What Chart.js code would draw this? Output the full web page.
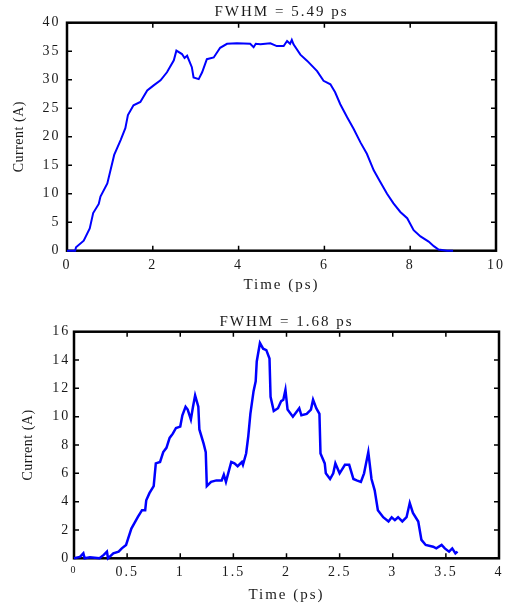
<!DOCTYPE html>
<html>
<head>
<meta charset="utf-8">
<script src="https://cdn.jsdelivr.net/npm/chart.js@4/dist/chart.umd.min.js"></script>
<style>
  body { margin: 0; background: #fff; }
  .box { position: absolute; left: 0; width: 505px; }
</style>
</head>
<body>
<div class="box" style="top:0;height:300px"><canvas id="topChart" width="505" height="300"></canvas></div>
<div class="box" style="top:300px;height:307px"><canvas id="bottomChart" width="505" height="307"></canvas></div>
<script>
// long pulse (top panel)
const topTime = [0, 0.19, 0.21, 0.39, 0.53, 0.61, 0.74, 0.78, 0.94, 1.10, 1.25, 1.36, 1.42, 1.55, 1.71, 1.87,
    2.02, 2.18, 2.33, 2.49, 2.55, 2.68, 2.74, 2.80, 2.91, 2.95, 3.07, 3.15, 3.26, 3.42, 3.57, 3.73, 3.96,
    4.27, 4.35, 4.40, 4.51, 4.74, 4.89, 5.05, 5.13, 5.20, 5.24, 5.28, 5.44, 5.60, 5.83, 5.98, 6.14, 6.25,
    6.37, 6.53, 6.68, 6.84, 6.99, 7.15, 7.30, 7.46, 7.61, 7.77, 7.93, 8.08, 8.24, 8.43, 8.55, 8.66, 8.86, 9.0];
const topCurrent = [0, 0, 0.6, 1.75, 3.9, 6.6, 8.2, 9.5, 11.8, 16.8, 19.4, 21.5, 23.8, 25.5, 26.1, 28.1,
    29.0, 29.9, 31.3, 33.4, 35.1, 34.5, 33.8, 34.2, 32.2, 30.4, 30.1, 31.3, 33.6, 33.9, 35.6, 36.3, 36.4,
    36.3, 35.7, 36.3, 36.2, 36.4, 35.9, 35.9, 36.8, 36.3, 37.0, 36.2, 34.4, 33.3, 31.5, 29.8, 29.2, 27.8,
    25.7, 23.4, 21.4, 19.0, 17.0, 14.1, 12.1, 10.0, 8.3, 6.8, 5.7, 3.6, 2.5, 1.6, 0.8, 0.2, 0, 0];
const topTitle = 'FWHM = 5.49 ps';

// compressed pulse (bottom panel)
const bottomTime = [0, 0.056, 0.088, 0.10, 0.15, 0.24, 0.28, 0.31, 0.32, 0.37, 0.42, 0.45, 0.49, 0.51, 0.54,
    0.57, 0.60, 0.64, 0.67, 0.68, 0.71, 0.75, 0.77, 0.81, 0.84, 0.87, 0.90, 0.93, 0.96, 1.00, 1.02, 1.05,
    1.07, 1.10, 1.12, 1.14, 1.17, 1.18, 1.22, 1.24, 1.25, 1.29, 1.34, 1.39, 1.41, 1.43, 1.48, 1.51, 1.54,
    1.58, 1.59, 1.62, 1.64, 1.66, 1.69, 1.71, 1.72, 1.75, 1.78, 1.81, 1.84, 1.85, 1.88, 1.92, 1.95, 1.97,
    1.99, 2.01, 2.06, 2.12, 2.14, 2.19, 2.23, 2.25, 2.28, 2.31, 2.32, 2.36, 2.37, 2.41, 2.44, 2.46, 2.50,
    2.55, 2.59, 2.63, 2.66, 2.70, 2.73, 2.77, 2.80, 2.83, 2.86, 2.91, 2.96, 2.99, 3.02, 3.05, 3.09, 3.13,
    3.16, 3.19, 3.24, 3.27, 3.31, 3.38, 3.41, 3.46, 3.49, 3.53, 3.56, 3.59, 3.61];
const bottomCurrent = [0, 0.1, 0.35, 0, 0.07, 0, 0.24, 0.47, 0, 0.35, 0.47, 0.7, 0.94, 1.4, 2.1,
    2.5, 2.9, 3.4, 3.4, 4.1, 4.6, 5.1, 6.7, 6.8, 7.5, 7.8, 8.5, 8.8, 9.2, 9.3, 10.1, 10.7,
    10.5, 9.8, 10.7, 11.5, 10.7, 9.1, 8.1, 7.5, 5.1, 5.4, 5.5, 5.5, 5.9, 5.4, 6.8, 6.7, 6.5,
    6.8, 6.6, 7.4, 8.6, 10.2, 11.8, 12.5, 13.9, 15.2, 14.8, 14.7, 14.1, 11.4, 10.4, 10.6, 11.1, 11.2,
    11.9, 10.5, 10.0, 10.6, 10.1, 10.2, 10.5, 11.2, 10.6, 10.2, 7.4, 6.7, 6.0, 5.6, 6.0, 6.7, 6.0,
    6.6, 6.6, 5.6, 5.5, 5.4, 6.0, 7.5, 5.6, 4.8, 3.4, 2.9, 2.6, 2.9, 2.7, 2.9, 2.6, 2.9,
    3.9, 3.2, 2.6, 1.3, 0.94, 0.82, 0.7, 0.94, 0.7, 0.47, 0.7, 0.35, 0.47];
const bottomTitle = 'FWHM = 1.68 ps';

const xTitle = 'Time (ps)';
const yTitle = 'Current (A)';

const serif = 'Liberation Serif';
const textColor = '#1a1a1a';
const spacing = '2px';

// black box with inward ticks on all four sides, under the curve
const frame = {
    id: 'frame',
    beforeLayout(chart) { chart.ctx.letterSpacing = spacing; },
    beforeDraw(chart) {
        chart.ctx.letterSpacing = spacing;
        // the rotated y title is set tighter than the rest
        const ys = chart.scales.y;
        if (ys && !ys._tight) {
            const orig = ys.drawTitle;
            ys.drawTitle = function () {
                const c = this.ctx;
                c.letterSpacing = '0.5px';
                orig.apply(this, arguments);
                c.letterSpacing = spacing;
            };
            ys._tight = true;
        }
    },
    beforeDatasetsDraw(chart) {
        const ctx = chart.ctx;
        const a = chart.chartArea;
        const x = chart.scales.x;
        const y = chart.scales.y;
        ctx.save();
        ctx.strokeStyle = '#000';
        ctx.lineWidth = 1.5;
        ctx.beginPath();
        x.ticks.forEach(t => {
            const px = x.getPixelForValue(t.value);
            ctx.moveTo(px, a.bottom); ctx.lineTo(px, a.bottom - 5);
            ctx.moveTo(px, a.top); ctx.lineTo(px, a.top + 5);
        });
        y.ticks.forEach(t => {
            const py = y.getPixelForValue(t.value);
            ctx.moveTo(a.left, py); ctx.lineTo(a.left + 5, py);
            ctx.moveTo(a.right, py); ctx.lineTo(a.right - 5, py);
        });
        ctx.stroke();
        ctx.lineWidth = 2.5;
        ctx.strokeRect(a.left, a.top, a.right - a.left, a.bottom - a.top);
        ctx.restore();
    }
};

function noPad(s) {
    s.paddingLeft = 0;
    s.paddingRight = 0;
    s.paddingTop = 0;
    s.paddingBottom = 0;
}

function makeChart(id, xs, ys, cfg) {
    const points = xs.map((t, i) => ({ x: t, y: ys[i] }));
    return new Chart(document.getElementById(id).getContext('2d'), { //eslint-disable-line
        type: 'line',
        data: {
            datasets: [{
                data: points,
                borderColor: '#0000ff',
                borderWidth: cfg.lineWidth,
                pointRadius: 0,
                tension: 0,
                clip: 3
            }]
        },
        options: {
            responsive: false,
            animation: false,
            layout: { padding: { left: 0, right: cfg.right, top: 0, bottom: 0 } },
            plugins: {
                legend: { display: false },
                tooltip: { enabled: false },
                title: {
                    display: true,
                    fullSize: false,
                    text: cfg.title,
                    color: textColor,
                    font: { family: serif, size: 15, weight: 'normal', lineHeight: 1.2 },
                    padding: cfg.titlePad
                }
            },
            scales: {
                x: {
                    type: 'linear',
                    min: 0,
                    max: cfg.xMax,
                    grid: { display: false, drawTicks: false },
                    border: { display: false },
                    ticks: {
                        stepSize: cfg.xStep,
                        padding: 6,
                        color: textColor,
                        maxRotation: 0,
                        autoSkip: false,
                        font: cfg.xTickFont,
                        callback: v => String(v)
                    },
                    title: {
                        display: true,
                        text: xTitle,
                        color: textColor,
                        font: { family: serif, size: 15, lineHeight: 1.2 },
                        padding: { top: 0, bottom: cfg.xTitleBottom }
                    },
                    afterFit: s => { s.height = cfg.xHeight; noPad(s); }
                },
                y: {
                    min: 0,
                    max: cfg.yMax,
                    grid: { display: false, drawTicks: false },
                    border: { display: false },
                    ticks: {
                        stepSize: cfg.yStep,
                        padding: cfg.yTickPad,
                        color: textColor,
                        autoSkip: false,
                        font: { family: serif, size: 14 }
                    },
                    title: {
                        display: true,
                        text: yTitle,
                        color: textColor,
                        font: { family: serif, size: 14, lineHeight: 1.2 },
                        padding: { top: cfg.yTitleTop, bottom: 0 }
                    },
                    afterFit: s => { s.width = cfg.yWidth; noPad(s); }
                }
            }
        },
        plugins: [frame]
    });
}

makeChart('topChart', topTime, topCurrent, {
    title: topTitle,
    titlePad: { top: 3, bottom: 1.7 },
    xMax: 10, xStep: 2, yMax: 40, yStep: 5,
    xHeight: 49.3, xTitleBottom: 6,
    yWidth: 67, yTitleTop: 10.6, yTickPad: 6.4,
    right: 9, lineWidth: 2,
    xTickFont: { family: serif, size: 14 }
});

makeChart('bottomChart', bottomTime, bottomCurrent, {
    title: bottomTitle,
    titlePad: { top: 13, bottom: 0.7 },
    xMax: 4, xStep: 0.5, yMax: 16, yStep: 2,
    xHeight: 48.7, xTitleBottom: 3,
    yWidth: 74, yTitleTop: 19.6, yTickPad: 3.7,
    right: 6, lineWidth: 2.5,
    xTickFont: c => (c.index === 0 ? { family: serif, size: 10 } : { family: serif, size: 14 })
});
</script>
</body>
</html>
